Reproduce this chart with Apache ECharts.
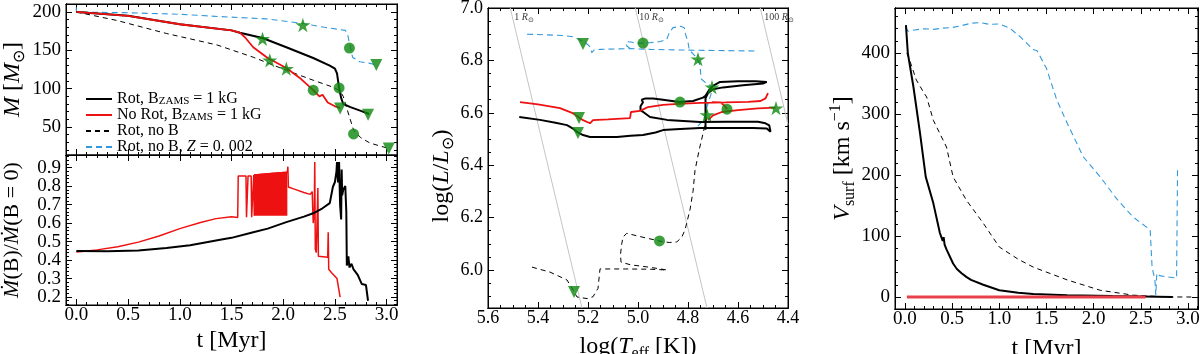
<!DOCTYPE html>
<html>
<head>
<meta charset="utf-8">
<script src="https://cdn.jsdelivr.net/npm/echarts@6/dist/echarts.min.js"></script>
<style>
  html, body { margin: 0; padding: 0; background: #fff; }
  #chart { width: 1200px; height: 354px; }
</style>
</head>
<body>
<div id="chart"></div>
<script>
// ---- top left: stellar mass [Msun] vs t [Myr]
const massRotB = [[0,200],[0.5,195],[1.0,184],[1.5,176],[1.58,173],[1.8,166],[2.03,154],[2.29,140],[2.45,130],[2.5,126],[2.52,120],[2.54,101],[2.56,88],[2.58,80],[2.65,76],[2.75,71],[2.83,67]]
const massNoRotB = [[0,200],[0.5,195],[1.0,184],[1.5,176],[1.58,173],[1.63,167],[1.71,154],[1.85,140],[2.03,127],[2.16,114],[2.29,98],[2.35,90],[2.38,92],[2.43,82],[2.5,77],[2.55,75]]
const massRotNoB = [[0,200],[0.39,189],[0.87,172],[1.36,157],[1.71,141],[2.03,124],[2.29,111],[2.48,102],[2.55,97],[2.58,90],[2.62,72],[2.68,46],[2.75,36],[2.84,29],[3.02,22]]
const massRotNoBZ = [[0,206],[0,200],[0.5,199],[1.0,197],[1.39,194],[1.84,191],[2.19,185],[2.4,180],[2.6,176],[2.62,172],[2.64,160],[2.67,141],[2.74,135],[2.84,133],[2.9,131]]
const massStars = [[1.8,165],[1.87,137],[2.03,126],[2.19,183]]
const massCircles = [[2.29,98],[2.54,101],[2.64,153],[2.68,41]]
const massTriangles = [[2.55,74],[2.82,66],[2.9,131],[3.02,22]]

// ---- bottom left: Mdot(B)/Mdot(B=0)
const ratioRotB = [[0,0.449],[0.3,0.447],[0.6,0.452],[0.87,0.465],[1.1,0.48],[1.39,0.51],[1.5,0.52],[1.71,0.55],[1.85,0.57],[2.03,0.605],[2.2,0.635],[2.29,0.653],[2.38,0.68],[2.45,0.708],[2.48,0.795],[2.5,0.822],[2.515,0.88],[2.52,0.93],[2.53,0.82],[2.54,0.93],[2.55,0.70],[2.56,0.62],[2.565,0.89],[2.57,0.75],[2.58,0.78],[2.6,0.8],[2.61,0.66],[2.615,0.37],[2.63,0.42],[2.64,0.36],[2.66,0.38],[2.68,0.35],[2.72,0.32],[2.76,0.27],[2.8,0.265],[2.82,0.18]]
const ratioNoRotB = [[0,0.443],[0.2,0.455],[0.4,0.472],[0.6,0.497],[0.8,0.53],[1.0,0.57],[1.2,0.603],[1.35,0.624],[1.5,0.634],[1.56,0.63],[1.565,0.855],[1.64,0.855],[1.645,0.632],[1.655,0.632],[1.66,0.855],[1.69,0.855],[1.695,0.632],[1.71,0.632],[1.715,0.86],[1.72,0.64],[1.72,0.86],[2.04,0.875],[2.045,0.905],[2.05,0.795],[2.1,0.785],[2.2,0.765],[2.26,0.755],[2.28,0.77],[2.29,0.6],[2.3,0.66],[2.305,0.93],[2.31,0.46],[2.32,0.44],[2.33,0.43],[2.335,0.79],[2.34,0.42],[2.43,0.415],[2.435,0.55],[2.44,0.35],[2.47,0.33],[2.52,0.3],[2.53,0.29],[2.55,0.2]]
const ratioBurstTop = [[1.72,0.86],[1.88,0.868],[2.04,0.875]]
const ratioBurstBase = 0.64

// ---- middle: HR diagram [log Teff, log L]
const hrRotB = [[5.475,6.584],[5.392,6.573],[5.33,6.562],[5.284,6.553],[5.26,6.54],[5.244,6.527],[5.22,6.515],[5.192,6.508],[5.14,6.508],[5.084,6.508],[5.03,6.512],[4.98,6.515],[4.93,6.525],[4.9,6.534],[4.85,6.537],[4.752,6.542],[4.62,6.542],[4.54,6.542],[4.485,6.54],[4.47,6.528],[4.465,6.535],[4.475,6.552],[4.49,6.56],[4.52,6.566],[4.65,6.566],[4.752,6.565],[4.884,6.573],[4.952,6.584],[4.975,6.6],[4.99,6.61],[4.99,6.625],[4.98,6.64],[4.985,6.65],[4.97,6.655],[4.94,6.655],[4.9,6.65],[4.835,6.641],[4.78,6.645],[4.74,6.658],[4.73,6.665],[4.715,6.688],[4.7,6.703],[4.672,6.718],[4.6,6.72],[4.53,6.72],[4.485,6.718],[4.5,6.712],[4.58,6.705],[4.66,6.697],[4.7,6.69],[4.72,6.675],[4.73,6.655],[4.73,6.6],[4.73,6.535]]
const hrNoRotB = [[5.472,6.641],[5.4,6.632],[5.312,6.618],[5.264,6.6],[5.24,6.585],[5.22,6.572],[5.192,6.56],[5.18,6.572],[5.12,6.575],[5.032,6.58],[5.028,6.603],[4.992,6.607],[4.975,6.615],[4.96,6.622],[4.9,6.63],[4.84,6.634],[4.75,6.638],[4.65,6.64],[4.56,6.642],[4.51,6.645],[4.49,6.655],[4.48,6.675],null,[4.705,6.641],[4.67,6.64],[4.655,6.628],[4.644,6.614],null,[4.72,6.572],[4.7,6.59],[4.665,6.603],[4.6,6.61],[4.52,6.617],[4.45,6.62]]
const hrRotNoB = [[5.424,6.011],[5.352,5.992],[5.284,5.962],[5.256,5.918],[5.244,5.897],[5.204,5.891],[5.18,5.898],[5.16,5.93],[5.152,6.004],[5.05,6.004],[4.952,6.003],[4.884,6.0],[4.95,6.01],[5.03,6.02],[5.068,6.03],[5.07,6.06],[5.065,6.1],[5.06,6.126],[5.045,6.14],[4.98,6.125],[4.912,6.11],[4.875,6.105],[4.845,6.107],[4.825,6.125],[4.812,6.153],[4.792,6.23],[4.78,6.3],[4.772,6.38],[4.755,6.46],[4.74,6.52],[4.728,6.57],[4.725,6.61]]
const hrRotNoBZ = [[5.444,6.9],[5.38,6.898],[5.3,6.895],[5.26,6.89],[5.235,6.88],[5.2,6.86],[5.19,6.85],[5.185,6.83],[5.175,6.84],[5.15,6.842],[5.08,6.844],[5.03,6.845],[4.95,6.842],[4.85,6.84],[4.7,6.838],[4.53,6.836],null,[5.03,6.845],[5.045,6.855],[5.045,6.872],[5.03,6.87],[5.0,6.866],[4.98,6.866],[4.95,6.868],[4.91,6.872],[4.885,6.88],[4.875,6.905],[4.86,6.925],[4.83,6.93],[4.815,6.925],[4.81,6.9],[4.8,6.87],[4.795,6.84],[4.78,6.825],[4.765,6.81],[4.755,6.79],[4.75,6.76],[4.748,6.73],[4.73,6.715],[4.705,6.7],[4.705,6.68],[4.715,6.65],[4.725,6.62],[4.73,6.59],[4.745,6.565],[4.765,6.545]]
const hrStars = [[4.76,6.805],[4.704,6.698],[4.724,6.592],[4.448,6.618]]
const hrCircles = [[4.98,6.866],[4.832,6.641],[4.644,6.614],[4.914,6.111]]
const hrTriangles = [[5.22,6.863],[5.236,6.58],[5.24,6.523],[5.256,5.916]]
const radius1Line = [[5.511,7.0],[5.224,5.855]]
const radius10Line = [[5.011,7.0],[4.724,5.855]]
const radius100Line = [[4.511,7.0],[4.4,6.555]]
const radiusLabels = [[5.495,6.963,'1'],[4.995,6.963,'10'],[4.495,6.963,'100']]

// ---- right: surface velocity [km/s] vs t [Myr]
const vRotB = [[0.01,446],[0.03,400],[0.09,344],[0.16,268],[0.22,197],[0.3,154],[0.37,105],[0.4,92],[0.41,98],[0.42,86],[0.44,78],[0.51,55],[0.55,46],[0.6,39],[0.65,33],[0.7,28],[0.83,20],[1.0,11],[1.2,7],[1.36,5],[1.72,3],[2.2,1.5],[2.84,0]]
const vNoRotB = [[0.02,0],[2.55,0]]
const vRotNoB = [[0.02,400],[0.05,388],[0.12,356],[0.2,335],[0.23,328],[0.3,290],[0.44,246],[0.51,197],[0.65,159],[0.83,121],[1.0,82],[1.2,62],[1.36,49],[1.72,28],[2.07,11],[2.42,3],[2.78,0],[3.05,0]]
const vRotNoBZ = [[0.01,443],[0.03,436],[0.1,438],[0.2,440],[0.3,439],[0.4,441],[0.5,442],[0.6,445],[0.7,449],[0.8,450],[0.9,447],[1.0,448],[1.11,441],[1.22,427],[1.36,406],[1.4,404],[1.5,375],[1.61,323],[1.72,285],[1.89,230],[2.07,197],[2.25,160],[2.42,131],[2.6,110],[2.62,49],[2.65,28],[2.66,3],[2.67,39],[2.7,35],[2.78,33],[2.88,31],[2.89,210]]

// ---- tick labels
const timeTicks = [0, 0.5, 1, 1.5, 2, 2.5, 3]
const massTicks = [50, 100, 150, 200]
const ratioTicks = [0.2, 0.3, 0.4, 0.5, 0.6, 0.7, 0.8, 0.9]
const teffTicks = [4.4, 4.6, 4.8, 5.0, 5.2, 5.4, 5.6]
const lumTicks = [6.0, 6.2, 6.4, 6.6, 6.8, 7.0]
const vTicks = [0, 100, 200, 300, 400]

const legendNames = ['rotB', 'noRotB', 'rotNoB', 'rotNoBZ']
const legendLabels = {
  rotB: 'Rot, B{sub|ZAMS} = 1 kG',
  noRotB: 'No Rot, B{sub|ZAMS} = 1 kG',
  rotNoB: 'Rot, no B',
  rotNoBZ: 'Rot, no B, {i|Z} = 0. 002'
}

const SERIF = 'Liberation Serif'
const GREEN = '#0d870d'
const BLUE = '#3399dd'
const RED = '#ee1111'
const STAR = 'path://M50,0L61.2,34.5L97.6,34.5L68.2,55.9L79.4,90.5L50,69.1L20.6,90.5L31.8,55.9L2.4,34.5L38.8,34.5Z'

const grids = [
  { left: 66, top: 4, width: 331, height: 151 },
  { left: 66, top: 155, width: 331, height: 150 },
  { left: 488, top: 8, width: 300, height: 300 },
  { left: 895, top: 8, width: 303, height: 301 }
]
const xRanges = [[-0.1, 3.1], [-0.1, 3.1], [4.4, 5.6], [-0.106, 3.107]]
const yRanges = [[13.5, 210.4], [0.157, 0.968], [5.855, 7.0], [-19.7, 474]]
// major / minor tick spacing per grid
const xSteps = [[0.5, 0.1], [0.5, 0.1], [0.2, 0.05], [0.5, 0.1]]
const ySteps = [[50, 10], [0.1, 0.02], [0.2, 0.05], [100, 20]]

const myChart = echarts.init(document.getElementById('chart'))

const richText = (size) => ({
  i: { fontFamily: SERIF, fontSize: size, fontStyle: 'italic', lineHeight: size + 6 },
  sub: { fontFamily: SERIF, fontSize: Math.round(size * 0.65), lineHeight: Math.round(size * 0.6), verticalAlign: 'bottom' },
  sup: { fontFamily: SERIF, fontSize: Math.round(size * 0.65), lineHeight: Math.round(size * 0.6), verticalAlign: 'top' }
})

const axisName = (text, gap, size, rotate, padding) => ({
  name: text,
  nameLocation: 'middle',
  nameGap: gap,
  nameRotate: rotate,
  nameTextStyle: { fontFamily: SERIF, fontSize: size, color: '#000', lineHeight: size + 6, rich: richText(size), padding: padding || 0 }
})

// labelled axis: labels only
function labelAxis(dim, g, labels, opts) {
  const r = dim === 'x' ? xRanges[g] : yRanges[g]
  return Object.assign({
    type: 'value', gridIndex: g, min: r[0], max: r[1], inverse: !!opts.inverse,
    position: dim === 'x' ? 'bottom' : 'left',
    splitLine: { show: false },
    axisLine: { show: true, onZero: false, lineStyle: { color: '#000', width: 1 } },
    axisTick: { show: false },
    axisLabel: {
      show: opts.labels !== false, customValues: labels, formatter: opts.fmt,
      showMinLabel: true, showMaxLabel: true, hideOverlap: false,
      fontFamily: SERIF, fontSize: opts.fs || 19, lineHeight: 14, color: '#000', margin: opts.margin || 5
    }
  }, opts.name || {})
}

// tick axes: the scale picks a nice step from splitNumber, ticks land on multiples of it
function tickAxis(dim, g, step, len, pos, inverse) {
  const r = dim === 'x' ? xRanges[g] : yRanges[g]
  return {
    type: 'value', gridIndex: g, min: r[0], max: r[1], inverse: !!inverse, position: pos,
    splitNumber: Math.round((r[1] - r[0]) / step),
    splitLine: { show: false },
    axisLine: { show: true, onZero: false, lineStyle: { color: '#000', width: 1 } },
    axisLabel: { show: true, color: 'rgba(0,0,0,0)', fontSize: 6, margin: 0, showMinLabel: false, showMaxLabel: false },
    axisTick: { show: true, inside: true, length: len, lineStyle: { color: '#000', width: 1 } }
  }
}

function axisGroup(dim, g, labels, opts) {
  const st = dim === 'x' ? xSteps[g] : ySteps[g]
  const p = dim === 'x' ? ['bottom', 'top'] : ['left', 'right']
  return [
    labelAxis(dim, g, labels, opts),
    tickAxis(dim, g, st[0], 6, p[0], opts.inverse),
    tickAxis(dim, g, st[1], 3, p[0], opts.inverse),
    tickAxis(dim, g, st[0], 6, p[1], opts.inverse),
    tickAxis(dim, g, st[1], 3, p[1], opts.inverse)
  ]
}

const f1 = v => v.toFixed(1)
const f0 = v => String(Math.round(v))

const xAxes = [].concat(
  axisGroup('x', 0, timeTicks, { labels: false }),
  axisGroup('x', 1, timeTicks, { fmt: f1, margin: 3, name: axisName('t [Myr]', 21, 24, 0) }),
  axisGroup('x', 2, teffTicks, { fmt: f1, inverse: true, fs: 18, margin: 3, name: axisName('log({i|T}{sub|eff} [K])', 20, 24, 0) }),
  axisGroup('x', 3, timeTicks, { fmt: f1, margin: 3, name: axisName('t [Myr]', 20, 24, 0) })
)
const yAxes = [].concat(
  axisGroup('y', 0, massTicks, { fmt: f0, name: axisName('{i|M} [{i|M}{sub|⊙}]', 38, 24, 90) }),
  axisGroup('y', 1, ratioTicks.filter((v, i) => i % 2 === 0), { fmt: f1, name: axisName('{i|Ṁ}(B)/{i|Ṁ}(B = 0)', 40, 22, 90) }),
  axisGroup('y', 2, lumTicks, { fmt: f1, fs: 18, name: axisName('log({i|L}/{i|L}{sub|⊙})', 28, 24, 90, [0, 36, 0, 0]) }),
  axisGroup('y', 3, vTicks, { fmt: f0, name: axisName('{i|V}{sub|surf} [km s{sup|−1}]', 29, 24, 90) }),
  // second label axis for the ratio panel, so neighbouring labels never collide
  [labelAxis('y', 1, ratioTicks.filter((v, i) => i % 2 === 1), { fmt: f1 })]
)

const prep = d => d.map(p => (p === null ? ['-', '-'] : p))

function line(name, g, data, style, extra) {
  return Object.assign({
    type: 'line', name: name, xAxisIndex: 5 * g, yAxisIndex: 5 * g,
    data: prep(data), symbol: 'none', showSymbol: false, connectNulls: false,
    lineStyle: style, itemStyle: { color: style.color }, silent: true, z: 2
  }, extra || {})
}

function markers(g, data, symbol, size, rotate) {
  return {
    type: 'scatter', name: 'mk', xAxisIndex: 5 * g, yAxisIndex: 5 * g, data: data,
    symbol: symbol, symbolSize: size, symbolRotate: rotate || 0, symbolKeepAspect: true,
    itemStyle: { color: GREEN }, silent: true, z: 6
  }
}

const solidBlack = { color: '#000', width: 2 }
const solidRed = { color: RED, width: 1.8 }
const dashBlack = { color: '#000', width: 1, type: [5, 4] }
const dashBlue = { color: BLUE, width: 1.1, type: [6, 4] }
const grayLine = { color: '#c4c4c4', width: 1 }

const series = [
  // top left
  line('rotNoBZ', 0, massRotNoBZ, dashBlue),
  line('rotNoB', 0, massRotNoB, dashBlack),
  line('rotB', 0, massRotB, solidBlack),
  line('noRotB', 0, massNoRotB, solidRed),
  markers(0, massStars, STAR, 15),
  markers(0, massCircles, 'circle', 11),
  markers(0, massTriangles, 'triangle', 12, 180),
  // bottom left
  line('noRotB', 1, ratioNoRotB, { color: RED, width: 1.5 }),
  line('noRotB', 1, ratioBurstTop, { color: RED, width: 1.5 }, { areaStyle: { color: RED, opacity: 1, origin: ratioBurstBase } }),
  line('rotB', 1, ratioRotB, solidBlack),
  // middle
  line('r1', 2, radius1Line, grayLine, { z: 1 }),
  line('r10', 2, radius10Line, grayLine, { z: 1 }),
  line('r100', 2, radius100Line, grayLine, { z: 1 }),
  {
    type: 'scatter', name: 'rlab', xAxisIndex: 10, yAxisIndex: 10, data: radiusLabels,
    symbolSize: 0, silent: true,
    label: {
      show: true, position: 'right', distance: 0, color: '#000', fontFamily: SERIF, fontSize: 10,
      formatter: p => p.data[2] + ' {i|R}{sub|⊙}',
      rich: {
        i: { fontFamily: SERIF, fontSize: 10, fontStyle: 'italic', lineHeight: 12 },
        sub: { fontFamily: SERIF, fontSize: 7, lineHeight: 6, verticalAlign: 'bottom' }
      }
    }
  },
  line('rotNoBZ', 2, hrRotNoBZ, dashBlue),
  line('rotNoB', 2, hrRotNoB, dashBlack),
  line('rotB', 2, hrRotB, solidBlack),
  line('noRotB', 2, hrNoRotB, solidRed),
  markers(2, hrStars, STAR, 15),
  markers(2, hrCircles, 'circle', 11),
  markers(2, hrTriangles, 'triangle', 12, 180),
  // right
  line('rotNoBZ', 3, vRotNoBZ, dashBlue),
  line('rotNoB', 3, vRotNoB, dashBlack),
  line('rotB', 3, vRotB, solidBlack),
  line('noRotB', 3, vNoRotB, { color: '#e8404a', width: 3 })
]

const option = {
  animation: false,
  grid: grids.map(g => Object.assign({
    show: true, borderColor: '#000', borderWidth: 1,
    containLabel: false, outerBoundsMode: 'none'
  }, g)),
  legend: {
    data: legendNames,
    left: 80, top: 86, orient: 'vertical', itemGap: 0, itemWidth: 26, itemHeight: 10,
    selectedMode: false,
    itemStyle: { opacity: 0 },
    formatter: n => legendLabels[n],
    textStyle: {
      fontFamily: SERIF, fontSize: 16, color: '#000', lineHeight: 16,
      rich: {
        i: { fontFamily: SERIF, fontSize: 16, fontStyle: 'italic', lineHeight: 16 },
        sub: { fontFamily: SERIF, fontSize: 11, lineHeight: 8, verticalAlign: 'bottom' }
      }
    }
  },
  xAxis: xAxes,
  yAxis: yAxes,
  series: series
}

myChart.setOption(option)
</script>
</body>
</html>
